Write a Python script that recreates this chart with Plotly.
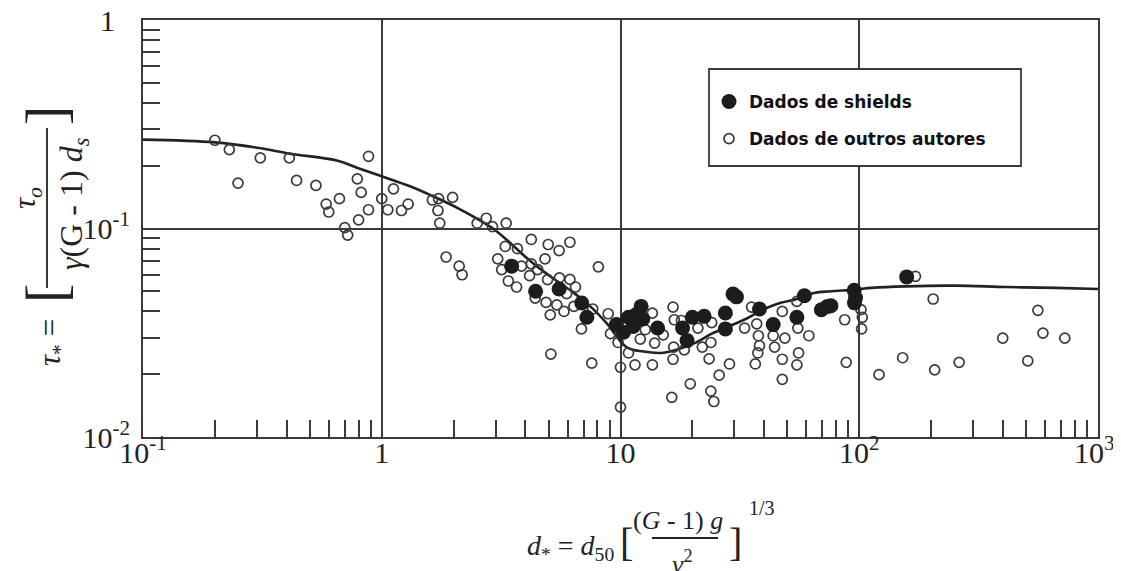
import plotly.graph_objects as go

# ---------------- data ----------------
shields_x = [3.50, 4.41, 5.53, 6.88, 7.23, 9.61, 10.3, 10.8, 11.3, 12.2, 12.4, 11.6,
             14.3, 18.2, 19.0, 20.0, 22.4, 27.5, 27.5, 29.6, 30.6, 38.2, 43.6, 54.8,
             58.9, 69.4, 73.6, 76.1, 95.2, 96.5, 95.5, 158]
shields_y = [0.066, 0.050, 0.0513, 0.0439, 0.0375, 0.0346, 0.0318, 0.0375, 0.0339, 0.0423,
             0.0368, 0.0386, 0.0333, 0.0333, 0.029, 0.0375, 0.0379, 0.0393, 0.033, 0.0485,
             0.047, 0.0411, 0.0346, 0.0375, 0.0476, 0.0408, 0.0423, 0.0426, 0.0505, 0.0465,
             0.044, 0.0586]

others_x = [0.20, 0.23, 0.25, 0.31, 0.41, 0.44, 0.53, 0.585, 0.60, 0.665, 0.70, 0.72,
            0.79, 0.82, 0.80, 0.88, 0.88, 1.0, 1.06, 1.12, 1.21, 1.29, 1.63, 1.73,
            1.72, 1.75, 1.98, 1.86, 2.11, 2.17, 2.51, 2.74, 2.91, 3.32, 3.29, 3.70,
            3.06, 3.18, 3.39, 3.67, 3.85, 4.23, 4.23, 4.16, 4.50, 4.83, 4.98, 5.53,
            6.14, 4.95, 4.39, 4.88, 5.08, 5.41, 5.80, 5.55, 6.14, 6.48, 5.95, 6.38,
            6.86, 7.65, 8.08, 8.88, 9.08, 5.11, 7.58, 10.0, 10.0, 9.77, 10.8, 11.5,
            12.1, 12.7, 13.6, 13.9, 13.6, 15.1, 16.6, 16.8, 16.7, 16.6, 16.4, 18.0,
            18.5, 19.6, 21.1, 22.0, 23.5, 23.9, 24.1, 23.9, 24.6, 25.9, 28.6, 33.1,
            35.4, 37.2, 37.8, 38.2, 37.6, 36.7, 43.6, 44.2, 47.6, 48.8, 47.6, 47.6,
            54.8, 55.3, 55.7, 54.8, 61.5, 86.9, 88.2, 172, 204, 101.7, 103, 102.3,
            121, 152, 207, 262, 399, 508, 560, 588, 726]
others_y = [0.265, 0.239, 0.165, 0.218, 0.218, 0.170, 0.161, 0.131, 0.120, 0.139, 0.101, 0.093,
            0.173, 0.149, 0.110, 0.123, 0.222, 0.139, 0.123, 0.155, 0.122, 0.131, 0.137, 0.139,
            0.122, 0.106, 0.141, 0.073, 0.066, 0.060, 0.106, 0.112, 0.102, 0.106, 0.082, 0.080,
            0.0715, 0.0635, 0.056, 0.0524, 0.066, 0.0886, 0.0677, 0.0594, 0.0635, 0.0715, 0.0838, 0.0784,
            0.0859, 0.0569, 0.0464, 0.0442, 0.0385, 0.043, 0.040, 0.058, 0.057, 0.0524, 0.0487, 0.0423,
            0.033, 0.0411, 0.0655, 0.039, 0.0313, 0.025, 0.0226, 0.0216, 0.0139, 0.0284, 0.0253, 0.0222,
            0.0295, 0.0327, 0.0393, 0.0282, 0.0222, 0.0309, 0.042, 0.0365, 0.027, 0.0236, 0.0155, 0.0362,
            0.0262, 0.018, 0.0333, 0.027, 0.0237, 0.0284, 0.0354, 0.0166, 0.0148, 0.0198, 0.0224, 0.0333,
            0.042, 0.0349, 0.0306, 0.0274, 0.0253, 0.0224, 0.0306, 0.027, 0.040, 0.0298, 0.0236, 0.0189,
            0.0447, 0.0333, 0.0253, 0.0222, 0.0306, 0.0365, 0.0228, 0.059, 0.0459, 0.0408, 0.0375, 0.033,
            0.0199, 0.024, 0.021, 0.0228, 0.0298, 0.0232, 0.0405, 0.0315, 0.0298]

curve_x = [0.1, 0.2005, 0.307, 0.4127, 0.654, 0.792, 1.0, 1.314, 1.64, 2.11, 2.472, 2.896,
           3.388, 3.97, 4.652, 5.44, 6.375, 7.47, 8.74, 10.59, 12.48, 14.72, 16.78, 20.44,
           24.1, 28.4, 33.46, 39.5, 46.5, 54.8, 64.6, 76.1, 95.9, 112.7, 155.9, 253.3,
           412, 669.5, 1000]
curve_y = [0.2667, 0.2588, 0.2432, 0.2285, 0.2115, 0.1952, 0.178, 0.1594, 0.1427, 0.1243, 0.1125, 0.1008,
           0.0869, 0.0736, 0.0635, 0.0558, 0.0491, 0.0423, 0.0352, 0.027, 0.0257, 0.0253, 0.026, 0.0282,
           0.0313, 0.0339, 0.0368, 0.0408, 0.0439, 0.0459, 0.0491, 0.050, 0.0509, 0.0519, 0.0528, 0.0532,
           0.0524, 0.0519, 0.0513]

x_tickvals = [0.1, 1, 10, 100, 1000]
x_ticktext = ["10<sup>-1</sup>", "1", "10", "10<sup>2</sup>", "10<sup>3</sup>&nbsp;"]
y_tickvals = [0.01, 0.1, 1]
y_ticktext = ["10<sup>-2</sup>", "10<sup>-1</sup>", "1&nbsp;&nbsp;"]
x_minor = [m * 10.0 ** e for e in (-1, 0, 1, 2) for m in range(2, 10)]
y_minor = [m * 10.0 ** e for e in (-2, -1) for m in range(2, 10)]

INK = "#3a3a3a"
SERIF = "Liberation Serif"

fig = go.Figure()
fig.add_trace(go.Scatter(x=curve_x, y=curve_y, mode="lines", line=dict(color="#222", width=2.6, shape="spline"),
                         showlegend=False, hoverinfo="skip"))
fig.add_trace(go.Scatter(x=others_x, y=others_y, mode="markers", name="Dados de outros autores",
                         legendrank=2, legendgroup="b",
                         marker=dict(symbol="circle-open", size=10, color=INK, line=dict(width=1.7, color=INK))))
fig.add_trace(go.Scatter(x=shields_x, y=shields_y, mode="markers", name="Dados de shields",
                         legendrank=1, legendgroup="a",
                         marker=dict(symbol="circle", size=15, color="#1c1c1c", line=dict(width=0))))

axis_common = dict(type="log", showline=True, linecolor=INK, linewidth=2, mirror=True,
                   showgrid=True, gridcolor=INK, gridwidth=1.8, zeroline=False, automargin=False,
                   ticks="", ticklabeloverflow="allow",
                   tickfont=dict(family=SERIF, size=30, color="#222"))
fig.update_xaxes(range=[-1, 3], tickmode="array", tickvals=x_tickvals, ticktext=x_ticktext,
                 ticklabelstandoff=-12,
                 minor=dict(tickmode="array", tickvals=x_minor, ticks="inside", ticklen=17,
                            tickwidth=1.5, tickcolor=INK, showgrid=False),
                 **axis_common)
fig.update_yaxes(range=[-2, 0], tickmode="array", tickvals=y_tickvals, ticktext=y_ticktext,
                 ticklabelstandoff=5,
                 minor=dict(tickmode="array", tickvals=y_minor, ticks="inside", ticklen=17,
                            tickwidth=1.5, tickcolor=INK, showgrid=False),
                 **axis_common)

# page offset of the figure inside the browser page (default body margin)
OFF = 8
# plot area in page pixels: x 143..1098, y 20..437
def px2paper(px, py):
    return (px - 143) / 955.0, (437 - py) / 417.0

ann = []
def add_text(text, px, py, size, angle=0):
    x, y = px2paper(px, py)
    ann.append(dict(text=text, x=x, y=y, xref="paper", yref="paper", showarrow=False,
                    textangle=angle, xanchor="center", yanchor="middle",
                    font=dict(family=SERIF, size=size, color="#222")))

# y title (rotated)
add_text("<i>τ</i><sub>*</sub> =", 52, 343, 31, -90)
add_text("[", 45, 294, 58, -90)
add_text("<i>τ</i><sub><i>o</i></sub>", 27, 198, 31, -90)
add_text("<i>γ</i>(G - 1) <i>d</i><sub><i>s</i></sub>", 73, 204, 32, -90)
add_text("]", 45, 116, 58, -90)
# x title
add_text("<i>d</i><sub>*</sub> = <i>d</i><sub>50</sub>", 570, 547, 28)
add_text("[", 626, 542, 40)
add_text("(<i>G</i> - 1) <i>g</i>", 678, 520, 26)
add_text("<i>ν</i><sup>2</sup>", 682, 562, 26)
add_text("]", 735, 542, 40)
add_text("1/3", 762, 508, 20)

shapes = []
fx0, fy0 = px2paper(47, 128)
fx1, fy1 = px2paper(47, 288)
shapes.append(dict(type="line", xref="paper", yref="paper", x0=fx0, x1=fx1, y0=fy0, y1=fy1,
                   line=dict(color="#222", width=1.8)))
gx0, gy0 = px2paper(652, 538)
gx1, gy1 = px2paper(718, 538)
shapes.append(dict(type="line", xref="paper", yref="paper", x0=gx0, x1=gx1, y0=gy0, y1=gy1,
                   line=dict(color="#222", width=1.8)))
# legend frame
bx0, by0 = px2paper(709, 69)
bx1, by1 = px2paper(1021, 166)
shapes.append(dict(type="rect", xref="paper", yref="paper", x0=bx0, x1=bx1, y0=by1, y1=by0,
                   fillcolor="white", layer="above", line=dict(color=INK, width=1.8)))

lx, ly = px2paper(709, 84)
fig.update_layout(
    width=1121, height=571,
    margin=dict(l=143 - OFF, r=23 + OFF, t=20 - OFF, b=134 + OFF),
    paper_bgcolor="white", plot_bgcolor="white",
    annotations=ann, shapes=shapes,
    legend=dict(x=lx, y=ly, xanchor="left", yanchor="top", bgcolor="rgba(0,0,0,0)",
                borderwidth=0, traceorder="grouped", tracegroupgap=12,
                font=dict(family="DejaVu Sans", size=17, color="#111", weight="bold")),
)
fig.write_html("out.html")
